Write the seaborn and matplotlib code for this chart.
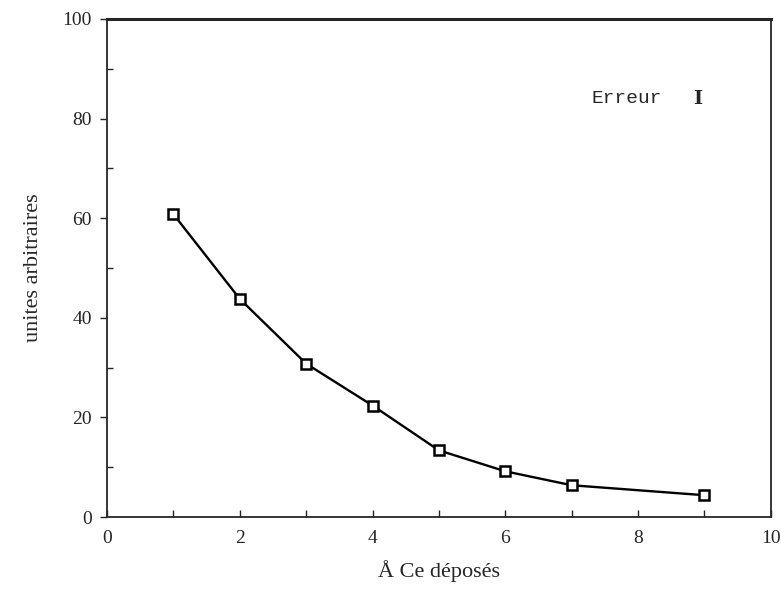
import matplotlib
matplotlib.use('Agg')
import matplotlib.pyplot as plt
import seaborn as sns
import pandas as pd
from matplotlib.ticker import MultipleLocator

# values
couches = [1, 2, 3, 4, 5, 6, 7, 9]
intensite = [60.8, 43.8, 30.8, 22.4, 13.4, 9.2, 6.4, 4.4]
x_ticks = [0, 2, 4, 6, 8, 10]
y_ticks = [0, 20, 40, 60, 80, 100]

df = pd.DataFrame({'couches': couches, 'intensite': intensite})

sns.set_style('ticks')
plt.rcParams['font.family'] = ['Liberation Serif', 'DejaVu Serif']

fig = plt.figure(figsize=(7.81, 5.89), dpi=100)
ax = fig.add_axes([0.137, 0.122, 0.850, 0.846])

sns.lineplot(data=df, x='couches', y='intensite', ax=ax, color='black',
             linewidth=1.7, marker='s', markersize=6.5, markerfacecolor='white',
             markeredgecolor='black', markeredgewidth=1.8)

ax.set_xlim(0, 10)
ax.set_ylim(0, 100)
ax.set_xticks(x_ticks)
ax.set_yticks(y_ticks)
ax.xaxis.set_minor_locator(MultipleLocator(1))
ax.yaxis.set_minor_locator(MultipleLocator(10))
ax.tick_params(axis='x', which='both', direction='in', length=5, width=1,
               labelsize=14, pad=9)
ax.tick_params(axis='y', which='major', direction='out', length=5, width=1,
               labelsize=14, pad=6)
ax.tick_params(axis='y', which='minor', direction='in', length=4, width=1)

for side in ['left', 'right', 'bottom']:
    ax.spines[side].set_linewidth(1.3)
    ax.spines[side].set_visible(True)
ax.spines['top'].set_visible(True)
ax.spines['top'].set_linewidth(2.2)

ax.set_xlabel('Å Ce déposés', fontsize=16, labelpad=10)
ax.set_ylabel('unites arbitraires', fontsize=16, labelpad=14)

ax.text(7.3, 84, 'Erreur', fontsize=14, family='Liberation Mono', va='center')
ax.text(8.9, 84, 'I', fontsize=14, fontweight='bold', family='DejaVu Serif',
        va='center', ha='center')

fig.savefig('out.png', dpi=100)
